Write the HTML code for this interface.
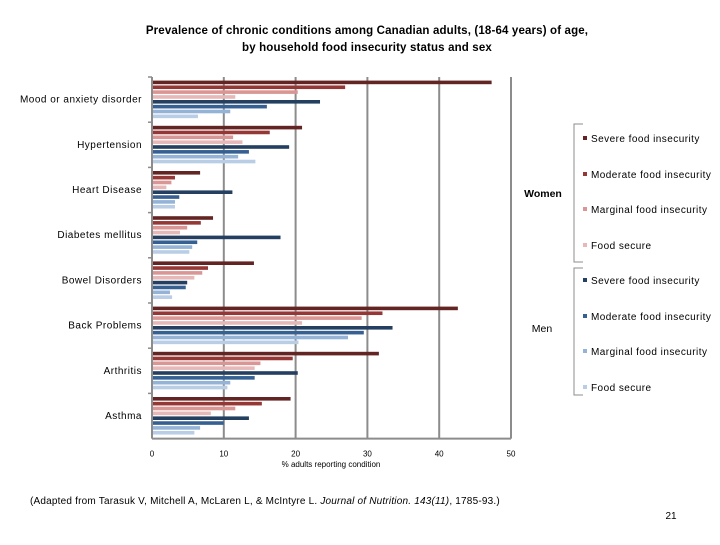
<!DOCTYPE html>
<html><head><meta charset="utf-8"><style>
body{margin:0;background:#fff;width:720px;height:540px;overflow:hidden;font-family:"Liberation Sans",sans-serif}
svg text{font-family:"Liberation Sans",sans-serif;fill:#000}
</style></head><body>
<svg id="chart" width="720" height="540" xmlns="http://www.w3.org/2000/svg">
<text x="367" y="34" font-size="11.5" font-weight="bold" text-anchor="middle" letter-spacing="0.15">Prevalence of chronic conditions among Canadian adults, (18-64 years) of age,</text>
<text x="367" y="51" font-size="11.5" font-weight="bold" text-anchor="middle" letter-spacing="0.15">by household food insecurity status and sex</text>
<g id="grid"></g><g id="bars"></g><g id="axes"></g><g id="legend"></g>
<text x="331" y="467" font-size="8" text-anchor="middle">% adults reporting condition</text>
<text x="30" y="504" font-size="10" letter-spacing="0.2">(Adapted from Tarasuk V, Mitchell A, McLaren L, &amp; McIntyre L. <tspan font-style="italic">Journal of Nutrition. 143(11)</tspan>, 1785-93.)</text>
<text x="671" y="519" font-size="10" text-anchor="middle">21</text>
</svg>
<script>
const categories=["Mood or anxiety disorder","Hypertension","Heart Disease","Diabetes mellitus","Bowel Disorders","Back Problems","Arthritis","Asthma"];
const seriesNames=["Severe food insecurity","Moderate food insecurity","Marginal food insecurity","Food secure","Severe food insecurity","Moderate food insecurity","Marginal food insecurity","Food secure"];
const womenSevere=[47.3,20.9,6.7,8.5,14.2,42.6,31.6,19.3];
const womenModerate=[26.9,16.4,3.2,6.8,7.8,32.1,19.6,15.3];
const womenMarginal=[20.3,11.3,2.7,4.9,7.0,29.2,15.1,11.6];
const womenSecure=[11.6,12.6,2.0,3.9,5.9,20.9,14.3,8.2];
const menSevere=[23.4,19.1,11.2,17.9,4.9,33.5,20.3,13.5];
const menModerate=[16.0,13.5,3.8,6.3,4.7,29.5,14.3,10.0];
const menMarginal=[10.9,12.0,3.2,5.6,2.5,27.3,10.9,6.7];
const menSecure=[6.4,14.4,3.2,5.2,2.8,20.4,10.5,5.9];
const xTicks=[0,10,20,30,40,50];
const series=[womenSevere,womenModerate,womenMarginal,womenSecure,menSevere,menModerate,menMarginal,menSecure];
const colors=["#632523","#953735","#D99694","#E6B9B8","#243F60","#376092","#95B3D7","#B9CDE5"];
const NS="http://www.w3.org/2000/svg";
const x0=152,x1=511,yTop=77,gh=45.2;
const xs=v=>x0+(v/50)*(x1-x0);
function mk(t,a,p){const e=document.createElementNS(NS,t);for(const k in a)e.setAttribute(k,a[k]);p.appendChild(e);return e;}
const grid=document.getElementById('grid'),bars=document.getElementById('bars'),axes=document.getElementById('axes'),leg=document.getElementById('legend');
const yBottom=yTop+gh*categories.length;
xTicks.forEach(t=>{
 if(t>0){const l=mk('line',{x1:xs(t),x2:xs(t),y1:yTop,y2:yBottom,stroke:'#8c8c8c','stroke-width':2},grid);
 
 }
 const tx=mk('text',{x:xs(t),y:yBottom+18,'font-size':8,'text-anchor':'middle'},axes);tx.textContent=t;
 
 
});
const ax=mk('line',{x1:x0,x2:x0,y1:yTop,y2:yBottom,stroke:'#8c8c8c','stroke-width':2},axes);


const bx=mk('line',{x1:x0,x2:x1,y1:yBottom,y2:yBottom,stroke:'#8c8c8c','stroke-width':2},axes);


categories.forEach((c,i)=>{
 const gy=yTop+i*gh;
 const tk=mk('line',{x1:x0-4,x2:x0,y1:gy,y2:gy,stroke:'#8c8c8c','stroke-width':1.5},axes);
 
 
 const lb=mk('text',{x:142,y:gy+gh/2+3,'font-size':10,'text-anchor':'end','letter-spacing':0.5},axes);lb.textContent=c;
 
 
 series.forEach((s,j)=>{
  const r=mk('rect',{x:x0,y:gy+3.6+j*4.85,width:xs(s[i])-x0,height:3.6,fill:colors[j]},bars);
  
  
 });
});
const ly=[139,175,210,246,281,317,352,388];
seriesNames.forEach((n,j)=>{
 const y=ly[j];
 const r=mk('rect',{x:583,y:y-3,width:4,height:4,fill:colors[j]},leg);
 
 
 const t=mk('text',{x:591,y:y+3,'font-size':10,'letter-spacing':0.45},leg);t.textContent=n;
 
 
});
mk('path',{d:'M583,124 L574,124 L574,262 L583,262 M583,268 L574,268 L574,395 L583,395',fill:'none',stroke:'#8c8c8c','stroke-width':1},leg);
const w=mk('text',{x:543,y:197,'font-size':10.5,'font-weight':'bold','text-anchor':'middle'},leg);w.textContent='Women';


const m=mk('text',{x:542,y:332,'font-size':10.5,'text-anchor':'middle'},leg);m.textContent='Men';


</script>
</body></html>
